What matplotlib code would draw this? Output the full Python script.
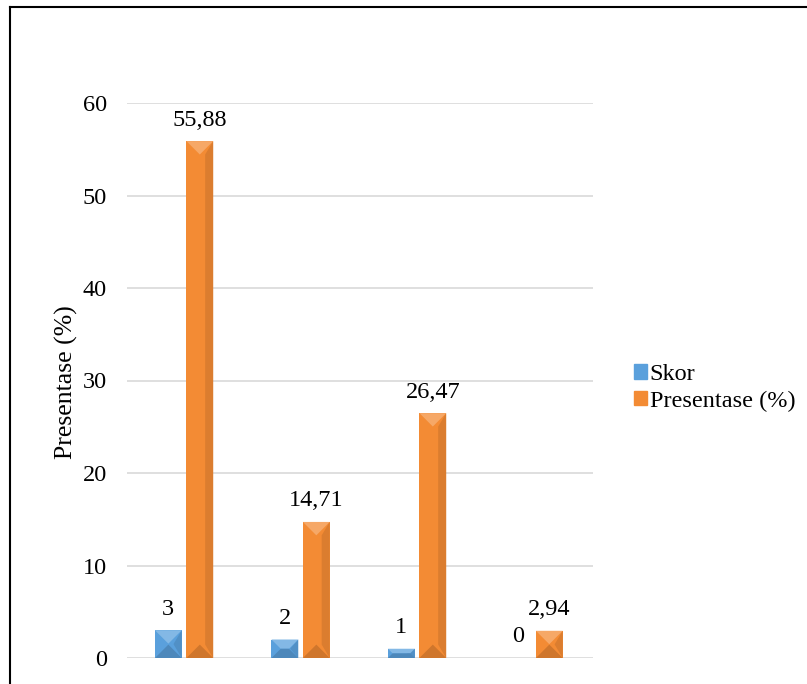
import matplotlib
matplotlib.use('Agg')
import matplotlib.pyplot as plt
from matplotlib.patches import Polygon, Patch
from matplotlib.lines import Line2D
import numpy as np

# values per group
skor = [3, 2, 1, 0]
presentase = [55.88, 14.71, 26.47, 2.94]
skor_labels = ["3", "2", "1", "0"]
presentase_labels = ["55,88", "14,71", "26,47", "2,94"]
series_names = ["Skor", "Presentase (%)"]

BLUE = "#5AA0DC"
ORANGE = "#F38B34"
FS = 17.5

plt.rcParams['font.family'] = ['Liberation Serif', 'DejaVu Serif']

W, H = 807, 684
fig = plt.figure(figsize=(W / 100, H / 100), dpi=100)
ax = fig.add_axes([127 / W, 1 - 658 / H, (593 - 127) / W, (658 - 103) / H])

x = np.arange(len(skor))
bw = 0.23
b1 = ax.bar(x - 0.145, skor, bw, color=BLUE, zorder=2)
b2 = ax.bar(x + 0.125, presentase, bw, color=ORANGE, zorder=2)

ax.set_xlim(-0.5, len(skor) - 0.5)
ax.set_ylim(0, 60)
ax.set_yticks(range(0, 61, 10))
ax.yaxis.grid(True, color="#D9D9D9", linewidth=1.2, zorder=0)
ax.set_axisbelow(True)
ax.set_xticks([])
for s in ax.spines.values():
    s.set_visible(False)
ax.tick_params(axis='y', length=0, pad=14.4, labelsize=FS)
ax.set_ylabel("Presentase (%)", fontsize=18.5)
ax.yaxis.set_label_coords((78 - 127) / (593 - 127), 0.5 + (658 - 382 - 277.5) / 555)

# pixels per data unit, used to size the bevel faces
ppx = (593 - 127) / 4.0
ppy = (658 - 103) / 60.0


def lighten(c, f):
    rgb = np.array(matplotlib.colors.to_rgb(c))
    return tuple(rgb + (1 - rgb) * f)


def darken(c, f):
    rgb = np.array(matplotlib.colors.to_rgb(c))
    return tuple(rgb * (1 - f))


def bevel(bars, color):
    for p in bars:
        x0, y0 = p.get_x(), p.get_y()
        w, h = p.get_width(), p.get_height()
        if h <= 0:
            continue
        x1, y1 = x0 + w, y0 + h
        wpx, hpx = w * ppx, h * ppy
        dpx = min(wpx, hpx) / 2
        dx, dy = dpx / ppx, dpx / ppy
        # darker right strip along the body
        ax.add_patch(Polygon([(x1 - w * 0.3, y0 + dy), (x1, y0), (x1, y1),
                              (x1 - w * 0.3, y1 - dy)],
                             closed=True, color=darken(color, 0.1), lw=0, zorder=3))
        # light top facet
        ax.add_patch(Polygon([(x0, y1), (x1, y1), (x1 - dx, y1 - dy), (x0 + dx, y1 - dy)],
                             closed=True, color=lighten(color, 0.25), lw=0, zorder=3))
        # dark bottom facet
        ax.add_patch(Polygon([(x0, y0), (x1, y0), (x1 - dx, y0 + dy), (x0 + dx, y0 + dy)],
                             closed=True, color=darken(color, 0.15), lw=0, zorder=3))


bevel(b1, BLUE)
bevel(b2, ORANGE)

for bars, labels in ((b1, skor_labels), (b2, presentase_labels)):
    for p, lab in zip(bars, labels):
        ax.annotate(lab, (p.get_x() + p.get_width() / 2, p.get_height()),
                    xytext=(0, 11.2), textcoords='offset points',
                    ha='center', va='baseline', fontsize=FS)

handles = [Patch(color=BLUE), Patch(color=ORANGE)]
fig.legend(handles, series_names, loc='center left', bbox_to_anchor=(634 / W, 1 - 388 / H),
           frameon=False, fontsize=FS, handlelength=0.53, handleheight=0.53,
           handletextpad=0.12, labelspacing=0.23, borderpad=0, borderaxespad=0)

# outer frame (top and left edges)
fig.add_artist(Line2D([10 / W, 10 / W], [1 - 7 / H, 0], color='black', lw=1.5,
                      transform=fig.transFigure))
fig.add_artist(Line2D([10 / W, 1], [1 - 7 / H, 1 - 7 / H], color='black', lw=1.5,
                      transform=fig.transFigure))

fig.savefig("out.png", dpi=100)
